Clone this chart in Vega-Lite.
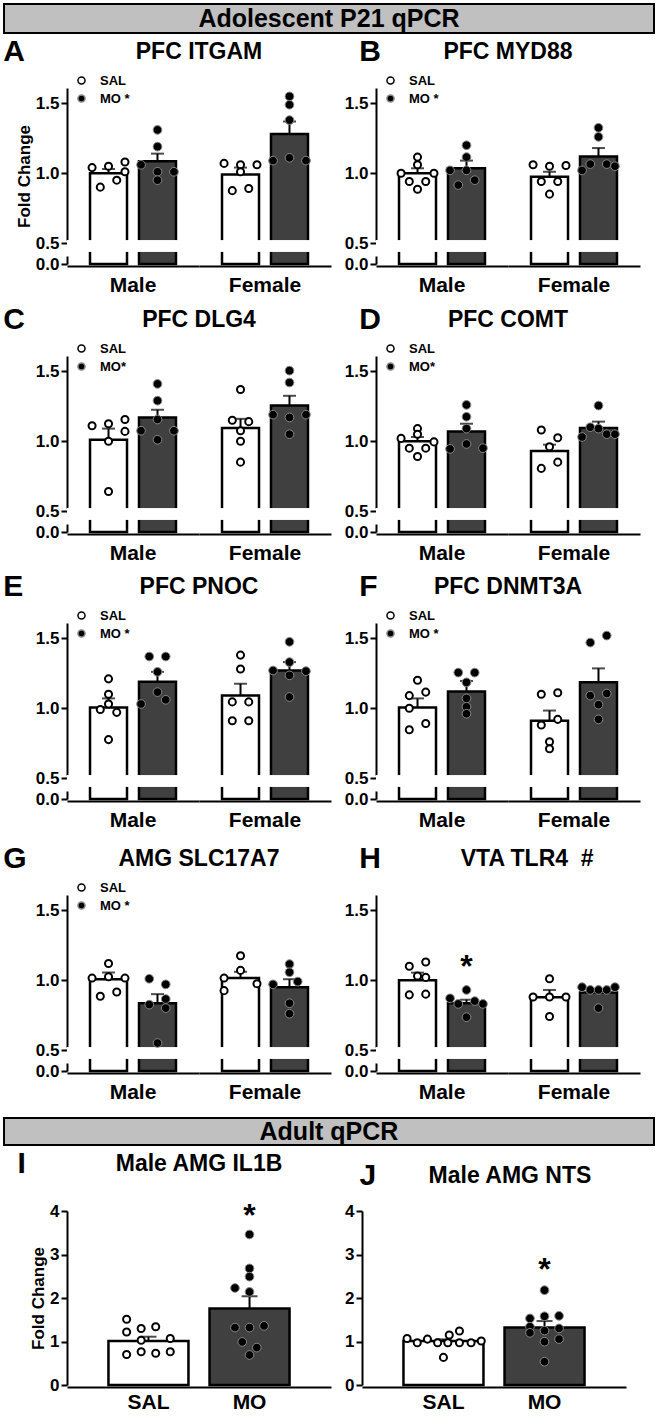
{
"$schema": "https://vega.github.io/schema/vega-lite/v6.json",
"padding": {"left": 3, "top": 3, "right": 3, "bottom": 3},
"spacing": 3,
"config": {
 "font": "Liberation Sans",
 "view": {"stroke": null},
 "axis": {"domainColor":"black","domainWidth":2,"tickColor":"black","tickWidth":2,"tickSize":6,"labelColor":"black","labelFontWeight":"bold","labelFontSize":17,"labelPadding":2,"titleColor":"black","titleFontWeight":"bold","titleFontSize":17,"grid":false},
 "header": {"titleFontSize":23,"titleFontWeight":"bold","titleColor":"black","titleOrient":"top","titlePadding":14,"labelOrient":"bottom","labelFontSize":21,"labelFontWeight":"bold","labelColor":"black","labelPadding":9},
 "legend": {"orient":"none","legendX":8,"legendY":-14,"title":null,"labelFontSize":13,"labelFontWeight":"bold","labelColor":"black","symbolSize":50,"symbolStrokeWidth":1.5,"symbolStrokeColor":"black","labelOffset":12,"rowPadding":3},
 "title": {"anchor":"start","frame":"bounds","fontSize":30,"fontWeight":"bold","color":"black","offset":-26}
},
"datasets": {"d": [
{"p":"A","sex":"Male","treat":"SAL","k":"bar","v":1.0,"hi":1.03},
{"p":"A","sex":"Male","treat":"MO","k":"bar","v":1.085,"hi":1.14},
{"p":"A","sex":"Female","treat":"SAL","k":"bar","v":0.99,"hi":1.04},
{"p":"A","sex":"Female","treat":"MO","k":"bar","v":1.28,"hi":1.37},
{"p":"A","sex":"Male","treat":"SAL","k":"pt","v":1.04,"j":-2},
{"p":"A","sex":"Male","treat":"SAL","k":"pt","v":1.05,"j":0},
{"p":"A","sex":"Male","treat":"SAL","k":"pt","v":1.08,"j":2},
{"p":"A","sex":"Male","treat":"SAL","k":"pt","v":1.01,"j":2},
{"p":"A","sex":"Male","treat":"SAL","k":"pt","v":0.90,"j":-1},
{"p":"A","sex":"Male","treat":"SAL","k":"pt","v":0.95,"j":1},
{"p":"A","sex":"Male","treat":"MO","k":"pt","v":1.31,"j":0},
{"p":"A","sex":"Male","treat":"MO","k":"pt","v":1.19,"j":0},
{"p":"A","sex":"Male","treat":"MO","k":"pt","v":1.06,"j":-2},
{"p":"A","sex":"Male","treat":"MO","k":"pt","v":1.01,"j":0},
{"p":"A","sex":"Male","treat":"MO","k":"pt","v":1.01,"j":2},
{"p":"A","sex":"Male","treat":"MO","k":"pt","v":0.95,"j":0},
{"p":"A","sex":"Female","treat":"SAL","k":"pt","v":1.07,"j":-2},
{"p":"A","sex":"Female","treat":"SAL","k":"pt","v":1.06,"j":0},
{"p":"A","sex":"Female","treat":"SAL","k":"pt","v":1.06,"j":2},
{"p":"A","sex":"Female","treat":"SAL","k":"pt","v":1.01,"j":0},
{"p":"A","sex":"Female","treat":"SAL","k":"pt","v":0.875,"j":-1},
{"p":"A","sex":"Female","treat":"SAL","k":"pt","v":0.89,"j":1},
{"p":"A","sex":"Female","treat":"MO","k":"pt","v":1.55,"j":0},
{"p":"A","sex":"Female","treat":"MO","k":"pt","v":1.49,"j":0},
{"p":"A","sex":"Female","treat":"MO","k":"pt","v":1.38,"j":0},
{"p":"A","sex":"Female","treat":"MO","k":"pt","v":1.09,"j":-2},
{"p":"A","sex":"Female","treat":"MO","k":"pt","v":1.11,"j":0},
{"p":"A","sex":"Female","treat":"MO","k":"pt","v":1.09,"j":2},
{"p":"B","sex":"Male","treat":"SAL","k":"bar","v":1.0,"hi":1.035},
{"p":"B","sex":"Male","treat":"MO","k":"bar","v":1.035,"hi":1.09},
{"p":"B","sex":"Female","treat":"SAL","k":"bar","v":0.975,"hi":1.01},
{"p":"B","sex":"Female","treat":"MO","k":"bar","v":1.12,"hi":1.18},
{"p":"B","sex":"Male","treat":"SAL","k":"pt","v":1.115,"j":0},
{"p":"B","sex":"Male","treat":"SAL","k":"pt","v":1.06,"j":0},
{"p":"B","sex":"Male","treat":"SAL","k":"pt","v":1.0,"j":-2},
{"p":"B","sex":"Male","treat":"SAL","k":"pt","v":1.0,"j":2},
{"p":"B","sex":"Male","treat":"SAL","k":"pt","v":0.94,"j":-1},
{"p":"B","sex":"Male","treat":"SAL","k":"pt","v":0.94,"j":1},
{"p":"B","sex":"Male","treat":"SAL","k":"pt","v":0.885,"j":0},
{"p":"B","sex":"Male","treat":"MO","k":"pt","v":1.20,"j":0},
{"p":"B","sex":"Male","treat":"MO","k":"pt","v":1.115,"j":0},
{"p":"B","sex":"Male","treat":"MO","k":"pt","v":1.02,"j":-2},
{"p":"B","sex":"Male","treat":"MO","k":"pt","v":1.02,"j":0},
{"p":"B","sex":"Male","treat":"MO","k":"pt","v":0.915,"j":-1},
{"p":"B","sex":"Male","treat":"MO","k":"pt","v":0.95,"j":1},
{"p":"B","sex":"Female","treat":"SAL","k":"pt","v":1.06,"j":-2},
{"p":"B","sex":"Female","treat":"SAL","k":"pt","v":1.05,"j":0},
{"p":"B","sex":"Female","treat":"SAL","k":"pt","v":1.055,"j":2},
{"p":"B","sex":"Female","treat":"SAL","k":"pt","v":0.94,"j":-1},
{"p":"B","sex":"Female","treat":"SAL","k":"pt","v":0.94,"j":1},
{"p":"B","sex":"Female","treat":"SAL","k":"pt","v":0.85,"j":0},
{"p":"B","sex":"Female","treat":"MO","k":"pt","v":1.325,"j":0},
{"p":"B","sex":"Female","treat":"MO","k":"pt","v":1.26,"j":0},
{"p":"B","sex":"Female","treat":"MO","k":"pt","v":1.02,"j":-2},
{"p":"B","sex":"Female","treat":"MO","k":"pt","v":1.065,"j":-1},
{"p":"B","sex":"Female","treat":"MO","k":"pt","v":1.065,"j":1},
{"p":"B","sex":"Female","treat":"MO","k":"pt","v":1.05,"j":2},
{"p":"C","sex":"Male","treat":"SAL","k":"bar","v":1.01,"hi":1.09},
{"p":"C","sex":"Male","treat":"MO","k":"bar","v":1.17,"hi":1.225},
{"p":"C","sex":"Female","treat":"SAL","k":"bar","v":1.095,"hi":1.16},
{"p":"C","sex":"Female","treat":"MO","k":"bar","v":1.255,"hi":1.325},
{"p":"C","sex":"Male","treat":"SAL","k":"pt","v":1.11,"j":-2},
{"p":"C","sex":"Male","treat":"SAL","k":"pt","v":1.125,"j":0},
{"p":"C","sex":"Male","treat":"SAL","k":"pt","v":1.155,"j":2},
{"p":"C","sex":"Male","treat":"SAL","k":"pt","v":1.07,"j":2},
{"p":"C","sex":"Male","treat":"SAL","k":"pt","v":1.0,"j":0},
{"p":"C","sex":"Male","treat":"SAL","k":"pt","v":0.64,"j":0},
{"p":"C","sex":"Male","treat":"MO","k":"pt","v":1.41,"j":0},
{"p":"C","sex":"Male","treat":"MO","k":"pt","v":1.29,"j":0},
{"p":"C","sex":"Male","treat":"MO","k":"pt","v":1.155,"j":0},
{"p":"C","sex":"Male","treat":"MO","k":"pt","v":1.075,"j":-2},
{"p":"C","sex":"Male","treat":"MO","k":"pt","v":1.075,"j":2},
{"p":"C","sex":"Male","treat":"MO","k":"pt","v":1.01,"j":0},
{"p":"C","sex":"Female","treat":"SAL","k":"pt","v":1.37,"j":0},
{"p":"C","sex":"Female","treat":"SAL","k":"pt","v":1.15,"j":-1},
{"p":"C","sex":"Female","treat":"SAL","k":"pt","v":1.14,"j":1},
{"p":"C","sex":"Female","treat":"SAL","k":"pt","v":1.075,"j":0},
{"p":"C","sex":"Female","treat":"SAL","k":"pt","v":1.0,"j":0},
{"p":"C","sex":"Female","treat":"SAL","k":"pt","v":0.85,"j":0},
{"p":"C","sex":"Female","treat":"MO","k":"pt","v":1.505,"j":0},
{"p":"C","sex":"Female","treat":"MO","k":"pt","v":1.42,"j":0},
{"p":"C","sex":"Female","treat":"MO","k":"pt","v":1.19,"j":-2},
{"p":"C","sex":"Female","treat":"MO","k":"pt","v":1.19,"j":2},
{"p":"C","sex":"Female","treat":"MO","k":"pt","v":1.17,"j":0},
{"p":"C","sex":"Female","treat":"MO","k":"pt","v":1.05,"j":0},
{"p":"D","sex":"Male","treat":"SAL","k":"bar","v":1.0,"hi":1.03},
{"p":"D","sex":"Male","treat":"MO","k":"bar","v":1.07,"hi":1.125},
{"p":"D","sex":"Female","treat":"SAL","k":"bar","v":0.93,"hi":0.975},
{"p":"D","sex":"Female","treat":"MO","k":"bar","v":1.095,"hi":1.14},
{"p":"D","sex":"Male","treat":"SAL","k":"pt","v":1.09,"j":0},
{"p":"D","sex":"Male","treat":"SAL","k":"pt","v":1.05,"j":0},
{"p":"D","sex":"Male","treat":"SAL","k":"pt","v":1.02,"j":-2},
{"p":"D","sex":"Male","treat":"SAL","k":"pt","v":0.995,"j":2},
{"p":"D","sex":"Male","treat":"SAL","k":"pt","v":0.95,"j":-1},
{"p":"D","sex":"Male","treat":"SAL","k":"pt","v":0.95,"j":1},
{"p":"D","sex":"Male","treat":"SAL","k":"pt","v":0.89,"j":0},
{"p":"D","sex":"Male","treat":"MO","k":"pt","v":1.26,"j":0},
{"p":"D","sex":"Male","treat":"MO","k":"pt","v":1.175,"j":0},
{"p":"D","sex":"Male","treat":"MO","k":"pt","v":1.09,"j":0},
{"p":"D","sex":"Male","treat":"MO","k":"pt","v":0.945,"j":-2},
{"p":"D","sex":"Male","treat":"MO","k":"pt","v":0.98,"j":0},
{"p":"D","sex":"Male","treat":"MO","k":"pt","v":0.95,"j":2},
{"p":"D","sex":"Female","treat":"SAL","k":"pt","v":1.08,"j":-1},
{"p":"D","sex":"Female","treat":"SAL","k":"pt","v":1.025,"j":1},
{"p":"D","sex":"Female","treat":"SAL","k":"pt","v":0.96,"j":0},
{"p":"D","sex":"Female","treat":"SAL","k":"pt","v":0.805,"j":-1},
{"p":"D","sex":"Female","treat":"SAL","k":"pt","v":0.85,"j":1},
{"p":"D","sex":"Female","treat":"MO","k":"pt","v":1.255,"j":0},
{"p":"D","sex":"Female","treat":"MO","k":"pt","v":1.03,"j":-2},
{"p":"D","sex":"Female","treat":"MO","k":"pt","v":1.10,"j":-1},
{"p":"D","sex":"Female","treat":"MO","k":"pt","v":1.09,"j":0},
{"p":"D","sex":"Female","treat":"MO","k":"pt","v":1.05,"j":1},
{"p":"D","sex":"Female","treat":"MO","k":"pt","v":1.05,"j":2},
{"p":"E","sex":"Male","treat":"SAL","k":"bar","v":1.005,"hi":1.07},
{"p":"E","sex":"Male","treat":"MO","k":"bar","v":1.19,"hi":1.26},
{"p":"E","sex":"Female","treat":"SAL","k":"bar","v":1.09,"hi":1.175},
{"p":"E","sex":"Female","treat":"MO","k":"bar","v":1.27,"hi":1.33},
{"p":"E","sex":"Male","treat":"SAL","k":"pt","v":1.21,"j":0},
{"p":"E","sex":"Male","treat":"SAL","k":"pt","v":1.10,"j":0},
{"p":"E","sex":"Male","treat":"SAL","k":"pt","v":1.03,"j":0},
{"p":"E","sex":"Male","treat":"SAL","k":"pt","v":0.99,"j":-1},
{"p":"E","sex":"Male","treat":"SAL","k":"pt","v":0.97,"j":1},
{"p":"E","sex":"Male","treat":"SAL","k":"pt","v":0.775,"j":0},
{"p":"E","sex":"Male","treat":"MO","k":"pt","v":1.37,"j":-1},
{"p":"E","sex":"Male","treat":"MO","k":"pt","v":1.37,"j":1},
{"p":"E","sex":"Male","treat":"MO","k":"pt","v":1.26,"j":0},
{"p":"E","sex":"Male","treat":"MO","k":"pt","v":1.115,"j":0},
{"p":"E","sex":"Male","treat":"MO","k":"pt","v":1.03,"j":-2},
{"p":"E","sex":"Male","treat":"MO","k":"pt","v":1.06,"j":1},
{"p":"E","sex":"Female","treat":"SAL","k":"pt","v":1.38,"j":0},
{"p":"E","sex":"Female","treat":"SAL","k":"pt","v":1.28,"j":0},
{"p":"E","sex":"Female","treat":"SAL","k":"pt","v":1.045,"j":-1},
{"p":"E","sex":"Female","treat":"SAL","k":"pt","v":1.045,"j":1},
{"p":"E","sex":"Female","treat":"SAL","k":"pt","v":0.91,"j":-1},
{"p":"E","sex":"Female","treat":"SAL","k":"pt","v":0.91,"j":1},
{"p":"E","sex":"Female","treat":"MO","k":"pt","v":1.475,"j":0},
{"p":"E","sex":"Female","treat":"MO","k":"pt","v":1.33,"j":0},
{"p":"E","sex":"Female","treat":"MO","k":"pt","v":1.27,"j":-2},
{"p":"E","sex":"Female","treat":"MO","k":"pt","v":1.265,"j":2},
{"p":"E","sex":"Female","treat":"MO","k":"pt","v":1.235,"j":0},
{"p":"E","sex":"Female","treat":"MO","k":"pt","v":1.08,"j":0},
{"p":"F","sex":"Male","treat":"SAL","k":"bar","v":1.005,"hi":1.07},
{"p":"F","sex":"Male","treat":"MO","k":"bar","v":1.12,"hi":1.195},
{"p":"F","sex":"Female","treat":"SAL","k":"bar","v":0.91,"hi":0.983},
{"p":"F","sex":"Female","treat":"MO","k":"bar","v":1.185,"hi":1.285},
{"p":"F","sex":"Male","treat":"SAL","k":"pt","v":1.20,"j":0},
{"p":"F","sex":"Male","treat":"SAL","k":"pt","v":1.09,"j":-1},
{"p":"F","sex":"Male","treat":"SAL","k":"pt","v":1.115,"j":1},
{"p":"F","sex":"Male","treat":"SAL","k":"pt","v":1.0,"j":-1},
{"p":"F","sex":"Male","treat":"SAL","k":"pt","v":0.845,"j":-1},
{"p":"F","sex":"Male","treat":"SAL","k":"pt","v":0.89,"j":1},
{"p":"F","sex":"Male","treat":"MO","k":"pt","v":1.255,"j":-1},
{"p":"F","sex":"Male","treat":"MO","k":"pt","v":1.255,"j":1},
{"p":"F","sex":"Male","treat":"MO","k":"pt","v":1.185,"j":0},
{"p":"F","sex":"Male","treat":"MO","k":"pt","v":1.07,"j":0},
{"p":"F","sex":"Male","treat":"MO","k":"pt","v":1.01,"j":0},
{"p":"F","sex":"Male","treat":"MO","k":"pt","v":0.96,"j":0},
{"p":"F","sex":"Female","treat":"SAL","k":"pt","v":1.10,"j":-1},
{"p":"F","sex":"Female","treat":"SAL","k":"pt","v":1.11,"j":1},
{"p":"F","sex":"Female","treat":"SAL","k":"pt","v":0.88,"j":-1},
{"p":"F","sex":"Female","treat":"SAL","k":"pt","v":0.92,"j":1},
{"p":"F","sex":"Female","treat":"SAL","k":"pt","v":0.76,"j":0},
{"p":"F","sex":"Female","treat":"SAL","k":"pt","v":0.71,"j":0},
{"p":"F","sex":"Female","treat":"MO","k":"pt","v":1.47,"j":-1},
{"p":"F","sex":"Female","treat":"MO","k":"pt","v":1.52,"j":1},
{"p":"F","sex":"Female","treat":"MO","k":"pt","v":1.09,"j":-1},
{"p":"F","sex":"Female","treat":"MO","k":"pt","v":1.105,"j":1},
{"p":"F","sex":"Female","treat":"MO","k":"pt","v":1.025,"j":0},
{"p":"F","sex":"Female","treat":"MO","k":"pt","v":0.92,"j":0},
{"p":"G","sex":"Male","treat":"SAL","k":"bar","v":1.007,"hi":1.055},
{"p":"G","sex":"Male","treat":"MO","k":"bar","v":0.835,"hi":0.90},
{"p":"G","sex":"Female","treat":"SAL","k":"bar","v":1.015,"hi":1.06},
{"p":"G","sex":"Female","treat":"MO","k":"bar","v":0.95,"hi":1.007},
{"p":"G","sex":"Male","treat":"SAL","k":"pt","v":1.12,"j":0},
{"p":"G","sex":"Male","treat":"SAL","k":"pt","v":1.015,"j":-2},
{"p":"G","sex":"Male","treat":"SAL","k":"pt","v":1.025,"j":0},
{"p":"G","sex":"Male","treat":"SAL","k":"pt","v":1.015,"j":2},
{"p":"G","sex":"Male","treat":"SAL","k":"pt","v":0.885,"j":-1},
{"p":"G","sex":"Male","treat":"SAL","k":"pt","v":0.915,"j":1},
{"p":"G","sex":"Male","treat":"MO","k":"pt","v":1.01,"j":-1},
{"p":"G","sex":"Male","treat":"MO","k":"pt","v":0.97,"j":1},
{"p":"G","sex":"Male","treat":"MO","k":"pt","v":0.825,"j":-1},
{"p":"G","sex":"Male","treat":"MO","k":"pt","v":0.865,"j":1},
{"p":"G","sex":"Male","treat":"MO","k":"pt","v":0.80,"j":1},
{"p":"G","sex":"Male","treat":"MO","k":"pt","v":0.55,"j":0},
{"p":"G","sex":"Female","treat":"SAL","k":"pt","v":1.175,"j":0},
{"p":"G","sex":"Female","treat":"SAL","k":"pt","v":1.015,"j":-2},
{"p":"G","sex":"Female","treat":"SAL","k":"pt","v":1.07,"j":0},
{"p":"G","sex":"Female","treat":"SAL","k":"pt","v":0.975,"j":2},
{"p":"G","sex":"Female","treat":"SAL","k":"pt","v":0.925,"j":-2},
{"p":"G","sex":"Female","treat":"MO","k":"pt","v":1.115,"j":0},
{"p":"G","sex":"Female","treat":"MO","k":"pt","v":1.057,"j":0},
{"p":"G","sex":"Female","treat":"MO","k":"pt","v":0.97,"j":-2},
{"p":"G","sex":"Female","treat":"MO","k":"pt","v":0.99,"j":1},
{"p":"G","sex":"Female","treat":"MO","k":"pt","v":0.835,"j":0},
{"p":"G","sex":"Female","treat":"MO","k":"pt","v":0.76,"j":0},
{"p":"H","sex":"Male","treat":"SAL","k":"bar","v":1.0,"hi":1.054},
{"p":"H","sex":"Male","treat":"MO","k":"bar","v":0.834,"hi":0.86},
{"p":"H","sex":"Female","treat":"SAL","k":"bar","v":0.878,"hi":0.93},
{"p":"H","sex":"Female","treat":"MO","k":"bar","v":0.912,"hi":0.93},
{"p":"H","sex":"Male","treat":"SAL","k":"pt","v":1.10,"j":-1},
{"p":"H","sex":"Male","treat":"SAL","k":"pt","v":1.13,"j":1},
{"p":"H","sex":"Male","treat":"SAL","k":"pt","v":1.03,"j":0},
{"p":"H","sex":"Male","treat":"SAL","k":"pt","v":1.02,"j":1},
{"p":"H","sex":"Male","treat":"SAL","k":"pt","v":0.895,"j":-1},
{"p":"H","sex":"Male","treat":"SAL","k":"pt","v":0.90,"j":1},
{"p":"H","sex":"Male","treat":"MO","k":"pt","v":0.93,"j":0},
{"p":"H","sex":"Male","treat":"MO","k":"pt","v":0.87,"j":-2},
{"p":"H","sex":"Male","treat":"MO","k":"pt","v":0.83,"j":-1},
{"p":"H","sex":"Male","treat":"MO","k":"pt","v":0.85,"j":1},
{"p":"H","sex":"Male","treat":"MO","k":"pt","v":0.83,"j":2},
{"p":"H","sex":"Male","treat":"MO","k":"pt","v":0.735,"j":0},
{"p":"H","sex":"Female","treat":"SAL","k":"pt","v":1.01,"j":0},
{"p":"H","sex":"Female","treat":"SAL","k":"pt","v":0.88,"j":-2},
{"p":"H","sex":"Female","treat":"SAL","k":"pt","v":0.88,"j":0},
{"p":"H","sex":"Female","treat":"SAL","k":"pt","v":0.88,"j":2},
{"p":"H","sex":"Female","treat":"SAL","k":"pt","v":0.74,"j":0},
{"p":"H","sex":"Female","treat":"MO","k":"pt","v":0.95,"j":-2},
{"p":"H","sex":"Female","treat":"MO","k":"pt","v":0.95,"j":2},
{"p":"H","sex":"Female","treat":"MO","k":"pt","v":0.93,"j":-1},
{"p":"H","sex":"Female","treat":"MO","k":"pt","v":0.93,"j":0},
{"p":"H","sex":"Female","treat":"MO","k":"pt","v":0.93,"j":1},
{"p":"H","sex":"Female","treat":"MO","k":"pt","v":0.80,"j":0},
{"p":"H","sex":"Male","treat":"MO","k":"star","v":1.15},
{"p":"I","sex":"Male","treat":"SAL","k":"bar","v":1.01,"hi":1.11},
{"p":"I","sex":"Male","treat":"MO","k":"bar","v":1.76,"hi":2.04},
{"p":"I","sex":"Male","treat":"SAL","k":"pt","v":1.51,"j":-1.5},
{"p":"I","sex":"Male","treat":"SAL","k":"pt","v":1.22,"j":-1.5},
{"p":"I","sex":"Male","treat":"SAL","k":"pt","v":1.30,"j":-0.5},
{"p":"I","sex":"Male","treat":"SAL","k":"pt","v":1.34,"j":0.5},
{"p":"I","sex":"Male","treat":"SAL","k":"pt","v":1.07,"j":1.5},
{"p":"I","sex":"Male","treat":"SAL","k":"pt","v":1.03,"j":-0.5},
{"p":"I","sex":"Male","treat":"SAL","k":"pt","v":0.70,"j":-1.5},
{"p":"I","sex":"Male","treat":"SAL","k":"pt","v":0.765,"j":-0.5},
{"p":"I","sex":"Male","treat":"SAL","k":"pt","v":0.73,"j":0.5},
{"p":"I","sex":"Male","treat":"SAL","k":"pt","v":0.765,"j":1.5},
{"p":"I","sex":"Male","treat":"MO","k":"pt","v":3.46,"j":0},
{"p":"I","sex":"Male","treat":"MO","k":"pt","v":2.68,"j":0},
{"p":"I","sex":"Male","treat":"MO","k":"pt","v":2.49,"j":0},
{"p":"I","sex":"Male","treat":"MO","k":"pt","v":2.23,"j":-1},
{"p":"I","sex":"Male","treat":"MO","k":"pt","v":2.14,"j":0},
{"p":"I","sex":"Male","treat":"MO","k":"pt","v":1.32,"j":-1},
{"p":"I","sex":"Male","treat":"MO","k":"pt","v":1.32,"j":0},
{"p":"I","sex":"Male","treat":"MO","k":"pt","v":1.36,"j":1},
{"p":"I","sex":"Male","treat":"MO","k":"pt","v":0.99,"j":-0.5},
{"p":"I","sex":"Male","treat":"MO","k":"pt","v":0.86,"j":0.5},
{"p":"I","sex":"Male","treat":"MO","k":"pt","v":0.69,"j":0},
{"p":"I","sex":"Male","treat":"MO","k":"star","v":4.08},
{"p":"J","sex":"Male","treat":"SAL","k":"bar","v":1.01,"hi":1.05},
{"p":"J","sex":"Male","treat":"MO","k":"bar","v":1.32,"hi":1.47},
{"p":"J","sex":"Male","treat":"SAL","k":"pt","v":1.07,"j":-2.5},
{"p":"J","sex":"Male","treat":"SAL","k":"pt","v":0.97,"j":-1.8},
{"p":"J","sex":"Male","treat":"SAL","k":"pt","v":1.055,"j":-1.1},
{"p":"J","sex":"Male","treat":"SAL","k":"pt","v":0.97,"j":-0.4},
{"p":"J","sex":"Male","treat":"SAL","k":"pt","v":1.15,"j":0.4},
{"p":"J","sex":"Male","treat":"SAL","k":"pt","v":1.24,"j":1.1},
{"p":"J","sex":"Male","treat":"SAL","k":"pt","v":0.97,"j":0.3},
{"p":"J","sex":"Male","treat":"SAL","k":"pt","v":0.97,"j":1.1},
{"p":"J","sex":"Male","treat":"SAL","k":"pt","v":0.97,"j":1.9},
{"p":"J","sex":"Male","treat":"SAL","k":"pt","v":1.01,"j":2.6},
{"p":"J","sex":"Male","treat":"SAL","k":"pt","v":0.635,"j":0},
{"p":"J","sex":"Male","treat":"MO","k":"pt","v":2.18,"j":0},
{"p":"J","sex":"Male","treat":"MO","k":"pt","v":1.53,"j":-1},
{"p":"J","sex":"Male","treat":"MO","k":"pt","v":1.58,"j":0},
{"p":"J","sex":"Male","treat":"MO","k":"pt","v":1.59,"j":1},
{"p":"J","sex":"Male","treat":"MO","k":"pt","v":1.34,"j":-1},
{"p":"J","sex":"Male","treat":"MO","k":"pt","v":1.30,"j":1},
{"p":"J","sex":"Male","treat":"MO","k":"pt","v":1.25,"j":0},
{"p":"J","sex":"Male","treat":"MO","k":"pt","v":0.995,"j":0},
{"p":"J","sex":"Male","treat":"MO","k":"pt","v":1.055,"j":1},
{"p":"J","sex":"Male","treat":"MO","k":"pt","v":1.2,"j":-1},
{"p":"J","sex":"Male","treat":"MO","k":"pt","v":0.535,"j":0},
{"p":"J","sex":"Male","treat":"MO","k":"star","v":2.83}
]},
"resolve": {"scale": {"x":"independent","y":"independent","xOffset":"independent","fill":"independent","stroke":"independent"}, "legend": {"fill":"independent","stroke":"independent"}},
"vconcat": [
{"width": 587, "height": 29, "data": {"values": [{"t": "Adolescent P21 qPCR"}]},
 "layer": [
  {"mark": {"type": "rect", "fill": "#c0c0c0", "stroke": "black", "strokeWidth": 2},
   "encoding": {"x": {"datum": -0.1073, "type": "quantitative", "scale": {"domain": [0, 1]}, "axis": null}, "x2": {"datum": 1.0}, "y": {"datum": 0, "type": "quantitative", "scale": {"domain": [0, 1]}, "axis": null}, "y2": {"datum": 1}}},
  {"mark": {"type": "text", "fontSize": 25, "fontWeight": "bold", "color": "black"},
   "encoding": {"text": {"field": "t"}, "x": {"datum": 0.4463, "type": "quantitative"}, "y": {"datum": 0.5, "type": "quantitative"}}}
 ]},
{"spacing": 13,
 "resolve": {"scale": {"x":"independent","y":"independent","xOffset":"independent","fill":"independent","stroke":"independent"}, "legend": {"fill":"independent","stroke":"independent"}},
 "hconcat": [
  {"data": {"name": "d"}, "transform": [{"filter": "datum.p == 'A'"}], "title": {"text": "A", "dx": -12},
   "facet": {"column": {"field": "sex", "type": "nominal", "sort": ["Male", "Female"], "title": "PFC ITGAM", "header": {"labelExpr": "[datum.label, '']", "labelLineHeight": 6}}}, "spacing": 0,
   "spec": {"width": 132, "height": 176, "layer": [
     {"transform": [{"filter": "datum.k == 'bar'"}], "mark": {"type": "bar", "stroke": "black", "strokeWidth": 2.5, "size": 37},
      "encoding": {"x": {"field": "treat", "type": "nominal", "sort": ["SAL", "MO"], "scale": {"domain": ["SAL", "MO"], "paddingInner": 0.245, "paddingOuter": 0.47}, "axis": {"labels": false, "ticks": false, "title": null}},
       "y": {"field": "v", "type": "quantitative", "scale": {"domain": [0, 0.5, 1.61], "range": [176, 155, 0], "nice": false}, "axis": {"values": [0, 0.5, 1, 1.5], "format": ".1f", "title": "Fold Change", "titlePadding": 2, "domainDash": [8, 16, 400, 0]}},
       "fill": {"condition": {"test": "datum.treat == 'SAL'", "value": "white"}, "value": "#404040"}}},
     {"transform": [{"filter": "datum.k == 'bar'"}], "mark": {"type": "rect", "fill": "white"}, "encoding": {"y": {"datum": 0.29, "type": "quantitative"}, "y2": {"datum": 0.52}}},
     {"transform": [{"filter": "datum.k == 'bar'"}], "mark": {"type": "rule", "strokeWidth": 2, "color": "black"}, "encoding": {"x": {"field": "treat", "type": "nominal"}, "y": {"field": "v", "type": "quantitative"}, "y2": {"field": "hi"}}},
     {"transform": [{"filter": "datum.k == 'bar'"}], "mark": {"type": "tick", "orient": "horizontal", "size": 13, "thickness": 2, "color": "black"}, "encoding": {"x": {"field": "treat", "type": "nominal"}, "y": {"field": "hi", "type": "quantitative"}}},
     {"transform": [{"filter": "datum.k == 'pt'"}], "mark": {"type": "point", "filled": true, "opacity": 1},
      "encoding": {"x": {"field": "treat", "type": "nominal"}, "xOffset": {"field": "j", "type": "quantitative", "scale": {"domain": [-2.25, 2.25], "range": [0, 37], "nice": false, "zero": false}}, "y": {"field": "v", "type": "quantitative"},
       "fill": {"field": "treat", "type": "nominal", "scale": {"domain": ["SAL", "MO"], "range": ["white", "black"]}, "legend": {"labelExpr": "datum.label == 'MO' ? 'MO *' : datum.label"}},
       "stroke": {"field": "treat", "type": "nominal", "scale": {"domain": ["SAL", "MO"], "range": ["black", "#888888"]}, "legend": null},
       "strokeWidth": {"condition": {"test": "datum.treat == 'SAL'", "value": 2}, "value": 1},
       "size": {"condition": {"test": "datum.treat == 'SAL'", "value": 50}, "value": 75}}}
   ]}},
  {"data": {"name": "d"}, "transform": [{"filter": "datum.p == 'B'"}], "title": {"text": "B", "dx": 15},
   "facet": {"column": {"field": "sex", "type": "nominal", "sort": ["Male", "Female"], "title": "PFC MYD88", "header": {"labelExpr": "[datum.label, '']", "labelLineHeight": 6}}}, "spacing": 0,
   "spec": {"width": 132, "height": 176, "layer": [
     {"transform": [{"filter": "datum.k == 'bar'"}], "mark": {"type": "bar", "stroke": "black", "strokeWidth": 2.5, "size": 37},
      "encoding": {"x": {"field": "treat", "type": "nominal", "sort": ["SAL", "MO"], "scale": {"domain": ["SAL", "MO"], "paddingInner": 0.245, "paddingOuter": 0.47}, "axis": {"labels": false, "ticks": false, "title": null}},
       "y": {"field": "v", "type": "quantitative", "scale": {"domain": [0, 0.5, 1.61], "range": [176, 155, 0], "nice": false}, "axis": {"values": [0, 0.5, 1, 1.5], "format": ".1f", "title": null, "domainDash": [8, 16, 400, 0]}},
       "fill": {"condition": {"test": "datum.treat == 'SAL'", "value": "white"}, "value": "#404040"}}},
     {"transform": [{"filter": "datum.k == 'bar'"}], "mark": {"type": "rect", "fill": "white"}, "encoding": {"y": {"datum": 0.29, "type": "quantitative"}, "y2": {"datum": 0.52}}},
     {"transform": [{"filter": "datum.k == 'bar'"}], "mark": {"type": "rule", "strokeWidth": 2, "color": "black"}, "encoding": {"x": {"field": "treat", "type": "nominal"}, "y": {"field": "v", "type": "quantitative"}, "y2": {"field": "hi"}}},
     {"transform": [{"filter": "datum.k == 'bar'"}], "mark": {"type": "tick", "orient": "horizontal", "size": 13, "thickness": 2, "color": "black"}, "encoding": {"x": {"field": "treat", "type": "nominal"}, "y": {"field": "hi", "type": "quantitative"}}},
     {"transform": [{"filter": "datum.k == 'pt'"}], "mark": {"type": "point", "filled": true, "opacity": 1},
      "encoding": {"x": {"field": "treat", "type": "nominal"}, "xOffset": {"field": "j", "type": "quantitative", "scale": {"domain": [-2.25, 2.25], "range": [0, 37], "nice": false, "zero": false}}, "y": {"field": "v", "type": "quantitative"},
       "fill": {"field": "treat", "type": "nominal", "scale": {"domain": ["SAL", "MO"], "range": ["white", "black"]}, "legend": {"labelExpr": "datum.label == 'MO' ? 'MO *' : datum.label"}},
       "stroke": {"field": "treat", "type": "nominal", "scale": {"domain": ["SAL", "MO"], "range": ["black", "#888888"]}, "legend": null},
       "strokeWidth": {"condition": {"test": "datum.treat == 'SAL'", "value": 2}, "value": 1},
       "size": {"condition": {"test": "datum.treat == 'SAL'", "value": 50}, "value": 75}}}
   ]}}
 ]},
{"spacing": 13,
 "resolve": {"scale": {"x":"independent","y":"independent","xOffset":"independent","fill":"independent","stroke":"independent"}, "legend": {"fill":"independent","stroke":"independent"}},
 "hconcat": [
  {"data": {"name": "d"}, "transform": [{"filter": "datum.p == 'C'"}], "title": {"text": "C", "dx": -12},
   "facet": {"column": {"field": "sex", "type": "nominal", "sort": ["Male", "Female"], "title": "PFC DLG4", "header": {"labelExpr": "[datum.label, '']", "labelLineHeight": 5}}}, "spacing": 0,
   "spec": {"width": 132, "height": 176, "layer": [
     {"transform": [{"filter": "datum.k == 'bar'"}], "mark": {"type": "bar", "stroke": "black", "strokeWidth": 2.5, "size": 37},
      "encoding": {"x": {"field": "treat", "type": "nominal", "sort": ["SAL", "MO"], "scale": {"domain": ["SAL", "MO"], "paddingInner": 0.245, "paddingOuter": 0.47}, "axis": {"labels": false, "ticks": false, "title": null}},
       "y": {"field": "v", "type": "quantitative", "scale": {"domain": [0, 0.5, 1.61], "range": [176, 155, 0], "nice": false}, "axis": {"values": [0, 0.5, 1, 1.5], "format": ".1f", "title": "Fold Change", "titlePadding": 2, "titleOpacity": 0, "domainDash": [8, 16, 400, 0]}},
       "fill": {"condition": {"test": "datum.treat == 'SAL'", "value": "white"}, "value": "#404040"}}},
     {"transform": [{"filter": "datum.k == 'bar'"}], "mark": {"type": "rect", "fill": "white"}, "encoding": {"y": {"datum": 0.29, "type": "quantitative"}, "y2": {"datum": 0.52}}},
     {"transform": [{"filter": "datum.k == 'bar'"}], "mark": {"type": "rule", "strokeWidth": 2, "color": "black"}, "encoding": {"x": {"field": "treat", "type": "nominal"}, "y": {"field": "v", "type": "quantitative"}, "y2": {"field": "hi"}}},
     {"transform": [{"filter": "datum.k == 'bar'"}], "mark": {"type": "tick", "orient": "horizontal", "size": 13, "thickness": 2, "color": "black"}, "encoding": {"x": {"field": "treat", "type": "nominal"}, "y": {"field": "hi", "type": "quantitative"}}},
     {"transform": [{"filter": "datum.k == 'pt'"}], "mark": {"type": "point", "filled": true, "opacity": 1},
      "encoding": {"x": {"field": "treat", "type": "nominal"}, "xOffset": {"field": "j", "type": "quantitative", "scale": {"domain": [-2.25, 2.25], "range": [0, 37], "nice": false, "zero": false}}, "y": {"field": "v", "type": "quantitative"},
       "fill": {"field": "treat", "type": "nominal", "scale": {"domain": ["SAL", "MO"], "range": ["white", "black"]}, "legend": {"labelExpr": "datum.label == 'MO' ? 'MO*' : datum.label"}},
       "stroke": {"field": "treat", "type": "nominal", "scale": {"domain": ["SAL", "MO"], "range": ["black", "#888888"]}, "legend": null},
       "strokeWidth": {"condition": {"test": "datum.treat == 'SAL'", "value": 2}, "value": 1},
       "size": {"condition": {"test": "datum.treat == 'SAL'", "value": 50}, "value": 75}}}
   ]}},
  {"data": {"name": "d"}, "transform": [{"filter": "datum.p == 'D'"}], "title": {"text": "D", "dx": 15},
   "facet": {"column": {"field": "sex", "type": "nominal", "sort": ["Male", "Female"], "title": "PFC COMT", "header": {"labelExpr": "[datum.label, '']", "labelLineHeight": 5}}}, "spacing": 0,
   "spec": {"width": 132, "height": 176, "layer": [
     {"transform": [{"filter": "datum.k == 'bar'"}], "mark": {"type": "bar", "stroke": "black", "strokeWidth": 2.5, "size": 37},
      "encoding": {"x": {"field": "treat", "type": "nominal", "sort": ["SAL", "MO"], "scale": {"domain": ["SAL", "MO"], "paddingInner": 0.245, "paddingOuter": 0.47}, "axis": {"labels": false, "ticks": false, "title": null}},
       "y": {"field": "v", "type": "quantitative", "scale": {"domain": [0, 0.5, 1.61], "range": [176, 155, 0], "nice": false}, "axis": {"values": [0, 0.5, 1, 1.5], "format": ".1f", "title": null, "domainDash": [8, 16, 400, 0]}},
       "fill": {"condition": {"test": "datum.treat == 'SAL'", "value": "white"}, "value": "#404040"}}},
     {"transform": [{"filter": "datum.k == 'bar'"}], "mark": {"type": "rect", "fill": "white"}, "encoding": {"y": {"datum": 0.29, "type": "quantitative"}, "y2": {"datum": 0.52}}},
     {"transform": [{"filter": "datum.k == 'bar'"}], "mark": {"type": "rule", "strokeWidth": 2, "color": "black"}, "encoding": {"x": {"field": "treat", "type": "nominal"}, "y": {"field": "v", "type": "quantitative"}, "y2": {"field": "hi"}}},
     {"transform": [{"filter": "datum.k == 'bar'"}], "mark": {"type": "tick", "orient": "horizontal", "size": 13, "thickness": 2, "color": "black"}, "encoding": {"x": {"field": "treat", "type": "nominal"}, "y": {"field": "hi", "type": "quantitative"}}},
     {"transform": [{"filter": "datum.k == 'pt'"}], "mark": {"type": "point", "filled": true, "opacity": 1},
      "encoding": {"x": {"field": "treat", "type": "nominal"}, "xOffset": {"field": "j", "type": "quantitative", "scale": {"domain": [-2.25, 2.25], "range": [0, 37], "nice": false, "zero": false}}, "y": {"field": "v", "type": "quantitative"},
       "fill": {"field": "treat", "type": "nominal", "scale": {"domain": ["SAL", "MO"], "range": ["white", "black"]}, "legend": {"labelExpr": "datum.label == 'MO' ? 'MO*' : datum.label"}},
       "stroke": {"field": "treat", "type": "nominal", "scale": {"domain": ["SAL", "MO"], "range": ["black", "#888888"]}, "legend": null},
       "strokeWidth": {"condition": {"test": "datum.treat == 'SAL'", "value": 2}, "value": 1},
       "size": {"condition": {"test": "datum.treat == 'SAL'", "value": 50}, "value": 75}}}
   ]}}
 ]},
{"spacing": 13,
 "resolve": {"scale": {"x":"independent","y":"independent","xOffset":"independent","fill":"independent","stroke":"independent"}, "legend": {"fill":"independent","stroke":"independent"}},
 "hconcat": [
  {"data": {"name": "d"}, "transform": [{"filter": "datum.p == 'E'"}], "title": {"text": "E", "dx": -12},
   "facet": {"column": {"field": "sex", "type": "nominal", "sort": ["Male", "Female"], "title": "PFC PNOC", "header": {"labelExpr": "[datum.label, '']", "labelLineHeight": 10}}}, "spacing": 0,
   "spec": {"width": 132, "height": 176, "layer": [
     {"transform": [{"filter": "datum.k == 'bar'"}], "mark": {"type": "bar", "stroke": "black", "strokeWidth": 2.5, "size": 37},
      "encoding": {"x": {"field": "treat", "type": "nominal", "sort": ["SAL", "MO"], "scale": {"domain": ["SAL", "MO"], "paddingInner": 0.245, "paddingOuter": 0.47}, "axis": {"labels": false, "ticks": false, "title": null}},
       "y": {"field": "v", "type": "quantitative", "scale": {"domain": [0, 0.5, 1.61], "range": [176, 155, 0], "nice": false}, "axis": {"values": [0, 0.5, 1, 1.5], "format": ".1f", "title": "Fold Change", "titlePadding": 2, "titleOpacity": 0, "domainDash": [8, 16, 400, 0]}},
       "fill": {"condition": {"test": "datum.treat == 'SAL'", "value": "white"}, "value": "#404040"}}},
     {"transform": [{"filter": "datum.k == 'bar'"}], "mark": {"type": "rect", "fill": "white"}, "encoding": {"y": {"datum": 0.29, "type": "quantitative"}, "y2": {"datum": 0.52}}},
     {"transform": [{"filter": "datum.k == 'bar'"}], "mark": {"type": "rule", "strokeWidth": 2, "color": "black"}, "encoding": {"x": {"field": "treat", "type": "nominal"}, "y": {"field": "v", "type": "quantitative"}, "y2": {"field": "hi"}}},
     {"transform": [{"filter": "datum.k == 'bar'"}], "mark": {"type": "tick", "orient": "horizontal", "size": 13, "thickness": 2, "color": "black"}, "encoding": {"x": {"field": "treat", "type": "nominal"}, "y": {"field": "hi", "type": "quantitative"}}},
     {"transform": [{"filter": "datum.k == 'pt'"}], "mark": {"type": "point", "filled": true, "opacity": 1},
      "encoding": {"x": {"field": "treat", "type": "nominal"}, "xOffset": {"field": "j", "type": "quantitative", "scale": {"domain": [-2.25, 2.25], "range": [0, 37], "nice": false, "zero": false}}, "y": {"field": "v", "type": "quantitative"},
       "fill": {"field": "treat", "type": "nominal", "scale": {"domain": ["SAL", "MO"], "range": ["white", "black"]}, "legend": {"labelExpr": "datum.label == 'MO' ? 'MO *' : datum.label"}},
       "stroke": {"field": "treat", "type": "nominal", "scale": {"domain": ["SAL", "MO"], "range": ["black", "#888888"]}, "legend": null},
       "strokeWidth": {"condition": {"test": "datum.treat == 'SAL'", "value": 2}, "value": 1},
       "size": {"condition": {"test": "datum.treat == 'SAL'", "value": 50}, "value": 75}}}
   ]}},
  {"data": {"name": "d"}, "transform": [{"filter": "datum.p == 'F'"}], "title": {"text": "F", "dx": 15},
   "facet": {"column": {"field": "sex", "type": "nominal", "sort": ["Male", "Female"], "title": "PFC DNMT3A", "header": {"labelExpr": "[datum.label, '']", "labelLineHeight": 10}}}, "spacing": 0,
   "spec": {"width": 132, "height": 176, "layer": [
     {"transform": [{"filter": "datum.k == 'bar'"}], "mark": {"type": "bar", "stroke": "black", "strokeWidth": 2.5, "size": 37},
      "encoding": {"x": {"field": "treat", "type": "nominal", "sort": ["SAL", "MO"], "scale": {"domain": ["SAL", "MO"], "paddingInner": 0.245, "paddingOuter": 0.47}, "axis": {"labels": false, "ticks": false, "title": null}},
       "y": {"field": "v", "type": "quantitative", "scale": {"domain": [0, 0.5, 1.61], "range": [176, 155, 0], "nice": false}, "axis": {"values": [0, 0.5, 1, 1.5], "format": ".1f", "title": null, "domainDash": [8, 16, 400, 0]}},
       "fill": {"condition": {"test": "datum.treat == 'SAL'", "value": "white"}, "value": "#404040"}}},
     {"transform": [{"filter": "datum.k == 'bar'"}], "mark": {"type": "rect", "fill": "white"}, "encoding": {"y": {"datum": 0.29, "type": "quantitative"}, "y2": {"datum": 0.52}}},
     {"transform": [{"filter": "datum.k == 'bar'"}], "mark": {"type": "rule", "strokeWidth": 2, "color": "black"}, "encoding": {"x": {"field": "treat", "type": "nominal"}, "y": {"field": "v", "type": "quantitative"}, "y2": {"field": "hi"}}},
     {"transform": [{"filter": "datum.k == 'bar'"}], "mark": {"type": "tick", "orient": "horizontal", "size": 13, "thickness": 2, "color": "black"}, "encoding": {"x": {"field": "treat", "type": "nominal"}, "y": {"field": "hi", "type": "quantitative"}}},
     {"transform": [{"filter": "datum.k == 'pt'"}], "mark": {"type": "point", "filled": true, "opacity": 1},
      "encoding": {"x": {"field": "treat", "type": "nominal"}, "xOffset": {"field": "j", "type": "quantitative", "scale": {"domain": [-2.25, 2.25], "range": [0, 37], "nice": false, "zero": false}}, "y": {"field": "v", "type": "quantitative"},
       "fill": {"field": "treat", "type": "nominal", "scale": {"domain": ["SAL", "MO"], "range": ["white", "black"]}, "legend": {"labelExpr": "datum.label == 'MO' ? 'MO *' : datum.label"}},
       "stroke": {"field": "treat", "type": "nominal", "scale": {"domain": ["SAL", "MO"], "range": ["black", "#888888"]}, "legend": null},
       "strokeWidth": {"condition": {"test": "datum.treat == 'SAL'", "value": 2}, "value": 1},
       "size": {"condition": {"test": "datum.treat == 'SAL'", "value": 50}, "value": 75}}}
   ]}}
 ]},
{"spacing": 13,
 "resolve": {"scale": {"x":"independent","y":"independent","xOffset":"independent","fill":"independent","stroke":"independent"}, "legend": {"fill":"independent","stroke":"independent"}},
 "hconcat": [
  {"data": {"name": "d"}, "transform": [{"filter": "datum.p == 'G'"}], "title": {"text": "G", "dx": -12},
   "facet": {"column": {"field": "sex", "type": "nominal", "sort": ["Male", "Female"], "title": "AMG SLC17A7", "header": {"labelExpr": "[datum.label, '']", "labelLineHeight": 11}}}, "spacing": 0,
   "spec": {"width": 132, "height": 176, "layer": [
     {"transform": [{"filter": "datum.k == 'bar'"}], "mark": {"type": "bar", "stroke": "black", "strokeWidth": 2.5, "size": 37},
      "encoding": {"x": {"field": "treat", "type": "nominal", "sort": ["SAL", "MO"], "scale": {"domain": ["SAL", "MO"], "paddingInner": 0.245, "paddingOuter": 0.47}, "axis": {"labels": false, "ticks": false, "title": null}},
       "y": {"field": "v", "type": "quantitative", "scale": {"domain": [0, 0.5, 1.61], "range": [176, 155, 0], "nice": false}, "axis": {"values": [0, 0.5, 1, 1.5], "format": ".1f", "title": "Fold Change", "titlePadding": 2, "titleOpacity": 0, "domainDash": [8, 16, 400, 0]}},
       "fill": {"condition": {"test": "datum.treat == 'SAL'", "value": "white"}, "value": "#404040"}}},
     {"transform": [{"filter": "datum.k == 'bar'"}], "mark": {"type": "rect", "fill": "white"}, "encoding": {"y": {"datum": 0.29, "type": "quantitative"}, "y2": {"datum": 0.52}}},
     {"transform": [{"filter": "datum.k == 'bar'"}], "mark": {"type": "rule", "strokeWidth": 2, "color": "black"}, "encoding": {"x": {"field": "treat", "type": "nominal"}, "y": {"field": "v", "type": "quantitative"}, "y2": {"field": "hi"}}},
     {"transform": [{"filter": "datum.k == 'bar'"}], "mark": {"type": "tick", "orient": "horizontal", "size": 13, "thickness": 2, "color": "black"}, "encoding": {"x": {"field": "treat", "type": "nominal"}, "y": {"field": "hi", "type": "quantitative"}}},
     {"transform": [{"filter": "datum.k == 'pt'"}], "mark": {"type": "point", "filled": true, "opacity": 1},
      "encoding": {"x": {"field": "treat", "type": "nominal"}, "xOffset": {"field": "j", "type": "quantitative", "scale": {"domain": [-2.25, 2.25], "range": [0, 37], "nice": false, "zero": false}}, "y": {"field": "v", "type": "quantitative"},
       "fill": {"field": "treat", "type": "nominal", "scale": {"domain": ["SAL", "MO"], "range": ["white", "black"]}, "legend": {"labelExpr": "datum.label == 'MO' ? 'MO *' : datum.label"}},
       "stroke": {"field": "treat", "type": "nominal", "scale": {"domain": ["SAL", "MO"], "range": ["black", "#888888"]}, "legend": null},
       "strokeWidth": {"condition": {"test": "datum.treat == 'SAL'", "value": 2}, "value": 1},
       "size": {"condition": {"test": "datum.treat == 'SAL'", "value": 50}, "value": 75}}}
   ]}},
  {"data": {"name": "d"}, "transform": [{"filter": "datum.p == 'H'"}], "title": {"text": "H", "dx": 15},
   "facet": {"column": {"field": "sex", "type": "nominal", "sort": ["Male", "Female"], "title": "\u200b\u00a0\u00a0\u00a0\u00a0\u00a0\u00a0VTA TLR4\u00a0\u00a0#", "header": {"labelExpr": "[datum.label, '']", "labelLineHeight": 11}}}, "spacing": 0,
   "spec": {"width": 132, "height": 176, "layer": [
     {"transform": [{"filter": "datum.k == 'bar'"}], "mark": {"type": "bar", "stroke": "black", "strokeWidth": 2.5, "size": 37},
      "encoding": {"x": {"field": "treat", "type": "nominal", "sort": ["SAL", "MO"], "scale": {"domain": ["SAL", "MO"], "paddingInner": 0.245, "paddingOuter": 0.47}, "axis": {"labels": false, "ticks": false, "title": null}},
       "y": {"field": "v", "type": "quantitative", "scale": {"domain": [0, 0.5, 1.61], "range": [176, 155, 0], "nice": false}, "axis": {"values": [0, 0.5, 1, 1.5], "format": ".1f", "title": null, "domainDash": [8, 16, 400, 0]}},
       "fill": {"condition": {"test": "datum.treat == 'SAL'", "value": "white"}, "value": "#404040"}}},
     {"transform": [{"filter": "datum.k == 'bar'"}], "mark": {"type": "rect", "fill": "white"}, "encoding": {"y": {"datum": 0.29, "type": "quantitative"}, "y2": {"datum": 0.52}}},
     {"transform": [{"filter": "datum.k == 'bar'"}], "mark": {"type": "rule", "strokeWidth": 2, "color": "black"}, "encoding": {"x": {"field": "treat", "type": "nominal"}, "y": {"field": "v", "type": "quantitative"}, "y2": {"field": "hi"}}},
     {"transform": [{"filter": "datum.k == 'bar'"}], "mark": {"type": "tick", "orient": "horizontal", "size": 13, "thickness": 2, "color": "black"}, "encoding": {"x": {"field": "treat", "type": "nominal"}, "y": {"field": "hi", "type": "quantitative"}}},
     {"transform": [{"filter": "datum.k == 'pt'"}], "mark": {"type": "point", "filled": true, "opacity": 1},
      "encoding": {"x": {"field": "treat", "type": "nominal"}, "xOffset": {"field": "j", "type": "quantitative", "scale": {"domain": [-2.25, 2.25], "range": [0, 37], "nice": false, "zero": false}}, "y": {"field": "v", "type": "quantitative"},
       "fill": {"field": "treat", "type": "nominal", "scale": {"domain": ["SAL", "MO"], "range": ["white", "black"]}, "legend": null},
       "stroke": {"field": "treat", "type": "nominal", "scale": {"domain": ["SAL", "MO"], "range": ["black", "#888888"]}, "legend": null},
       "strokeWidth": {"condition": {"test": "datum.treat == 'SAL'", "value": 2}, "value": 1},
       "size": {"condition": {"test": "datum.treat == 'SAL'", "value": 50}, "value": 75}}},
     {"transform": [{"filter": "datum.k == 'star'"}], "mark": {"type": "text", "fontSize": 32, "fontWeight": "bold", "baseline": "alphabetic", "dy": 18, "color": "black"},
      "encoding": {"x": {"field": "treat", "type": "nominal"}, "y": {"field": "v", "type": "quantitative"}, "text": {"value": "*"}}}
   ]}}
 ]},
{"width": 587, "height": 27, "data": {"values": [{"t": "Adult qPCR"}]},
 "layer": [
  {"mark": {"type": "rect", "fill": "#c0c0c0", "stroke": "black", "strokeWidth": 2},
   "encoding": {"x": {"datum": -0.1073, "type": "quantitative", "scale": {"domain": [0, 1]}, "axis": null}, "x2": {"datum": 1.0}, "y": {"datum": 0, "type": "quantitative", "scale": {"domain": [0, 1]}, "axis": null}, "y2": {"datum": 1}}},
  {"mark": {"type": "text", "fontSize": 25, "fontWeight": "bold", "color": "black"},
   "encoding": {"text": {"field": "t"}, "x": {"datum": 0.4463, "type": "quantitative"}, "y": {"datum": 0.5, "type": "quantitative"}}}
 ]},
{"spacing": 13,
 "resolve": {"scale": {"x":"independent","y":"independent","xOffset":"independent","fill":"independent","stroke":"independent"}, "legend": {"fill":"independent","stroke":"independent"}},
 "hconcat": [
  {"data": {"name": "d"}, "transform": [{"filter": "datum.p == 'I'"}], "title": {"text": "I", "dx": -12},
   "facet": {"column": {"field": "p", "type": "nominal", "title": "Male AMG IL1B", "header": {"labels": false, "titlePadding": 13}}}, "spacing": 0,
   "spec": {"width": 264, "height": 174, "layer": [
     {"transform": [{"filter": "datum.k == 'bar'"}], "mark": {"type": "bar", "stroke": "black", "strokeWidth": 2.5, "size": 80},
      "encoding": {"x": {"field": "treat", "type": "nominal", "sort": ["SAL", "MO"], "scale": {"domain": ["SAL", "MO"], "paddingInner": 0.208, "paddingOuter": 0.41}, "axis": {"labels": true, "ticks": false, "title": null, "labelFontSize": 21, "labelPadding": 4, "labelAngle": 0}},
       "y": {"field": "v", "type": "quantitative", "scale": {"domain": [0, 4], "nice": false}, "axis": {"values": [0, 1, 2, 3, 4], "format": "d", "title": "Fold Change", "titlePadding": 2}},
       "fill": {"condition": {"test": "datum.treat == 'SAL'", "value": "white"}, "value": "#404040"}}},
     {"transform": [{"filter": "datum.k == 'bar'"}], "mark": {"type": "rule", "strokeWidth": 2, "color": "black"}, "encoding": {"x": {"field": "treat", "type": "nominal"}, "y": {"field": "v", "type": "quantitative"}, "y2": {"field": "hi"}}},
     {"transform": [{"filter": "datum.k == 'bar'"}], "mark": {"type": "tick", "orient": "horizontal", "size": 16, "thickness": 2, "color": "black"}, "encoding": {"x": {"field": "treat", "type": "nominal"}, "y": {"field": "hi", "type": "quantitative"}}},
     {"transform": [{"filter": "datum.k == 'pt'"}], "mark": {"type": "point", "filled": true, "opacity": 1},
      "encoding": {"x": {"field": "treat", "type": "nominal"}, "xOffset": {"field": "j", "type": "quantitative", "scale": {"domain": [-2.75, 2.75], "range": [0, 80], "nice": false, "zero": false}}, "y": {"field": "v", "type": "quantitative"},
       "fill": {"field": "treat", "type": "nominal", "scale": {"domain": ["SAL", "MO"], "range": ["white", "black"]}, "legend": null},
       "stroke": {"field": "treat", "type": "nominal", "scale": {"domain": ["SAL", "MO"], "range": ["black", "#888888"]}, "legend": null},
       "strokeWidth": {"condition": {"test": "datum.treat == 'SAL'", "value": 2}, "value": 1},
       "size": {"condition": {"test": "datum.treat == 'SAL'", "value": 50}, "value": 75}}},
     {"transform": [{"filter": "datum.k == 'star'"}], "mark": {"type": "text", "fontSize": 32, "fontWeight": "bold", "baseline": "alphabetic", "dy": 18, "color": "black"},
      "encoding": {"x": {"field": "treat", "type": "nominal"}, "y": {"field": "v", "type": "quantitative"}, "text": {"value": "*"}}}
   ]}},
  {"data": {"name": "d"}, "transform": [{"filter": "datum.p == 'J'"}], "title": {"text": "J", "dx": 15},
   "facet": {"column": {"field": "p", "type": "nominal", "title": "\u200b\u00a0\u00a0\u00a0\u00a0\u00a0Male AMG NTS", "header": {"labels": false, "titlePadding": 13}}}, "spacing": 0,
   "spec": {"width": 264, "height": 174, "layer": [
     {"transform": [{"filter": "datum.k == 'bar'"}], "mark": {"type": "bar", "stroke": "black", "strokeWidth": 2.5, "size": 80},
      "encoding": {"x": {"field": "treat", "type": "nominal", "sort": ["SAL", "MO"], "scale": {"domain": ["SAL", "MO"], "paddingInner": 0.208, "paddingOuter": 0.41}, "axis": {"labels": true, "ticks": false, "title": null, "labelFontSize": 21, "labelPadding": 4, "labelAngle": 0}},
       "y": {"field": "v", "type": "quantitative", "scale": {"domain": [0, 4], "nice": false}, "axis": {"values": [0, 1, 2, 3, 4], "format": "d", "title": null}},
       "fill": {"condition": {"test": "datum.treat == 'SAL'", "value": "white"}, "value": "#404040"}}},
     {"transform": [{"filter": "datum.k == 'bar'"}], "mark": {"type": "rule", "strokeWidth": 2, "color": "black"}, "encoding": {"x": {"field": "treat", "type": "nominal"}, "y": {"field": "v", "type": "quantitative"}, "y2": {"field": "hi"}}},
     {"transform": [{"filter": "datum.k == 'bar'"}], "mark": {"type": "tick", "orient": "horizontal", "size": 16, "thickness": 2, "color": "black"}, "encoding": {"x": {"field": "treat", "type": "nominal"}, "y": {"field": "hi", "type": "quantitative"}}},
     {"transform": [{"filter": "datum.k == 'pt'"}], "mark": {"type": "point", "filled": true, "opacity": 1},
      "encoding": {"x": {"field": "treat", "type": "nominal"}, "xOffset": {"field": "j", "type": "quantitative", "scale": {"domain": [-2.75, 2.75], "range": [0, 80], "nice": false, "zero": false}}, "y": {"field": "v", "type": "quantitative"},
       "fill": {"field": "treat", "type": "nominal", "scale": {"domain": ["SAL", "MO"], "range": ["white", "black"]}, "legend": null},
       "stroke": {"field": "treat", "type": "nominal", "scale": {"domain": ["SAL", "MO"], "range": ["black", "#888888"]}, "legend": null},
       "strokeWidth": {"condition": {"test": "datum.treat == 'SAL'", "value": 2}, "value": 1},
       "size": {"condition": {"test": "datum.treat == 'SAL'", "value": 50}, "value": 75}}},
     {"transform": [{"filter": "datum.k == 'star'"}], "mark": {"type": "text", "fontSize": 32, "fontWeight": "bold", "baseline": "alphabetic", "dy": 18, "color": "black"},
      "encoding": {"x": {"field": "treat", "type": "nominal"}, "y": {"field": "v", "type": "quantitative"}, "text": {"value": "*"}}}
   ]}}
 ]}
]
}
